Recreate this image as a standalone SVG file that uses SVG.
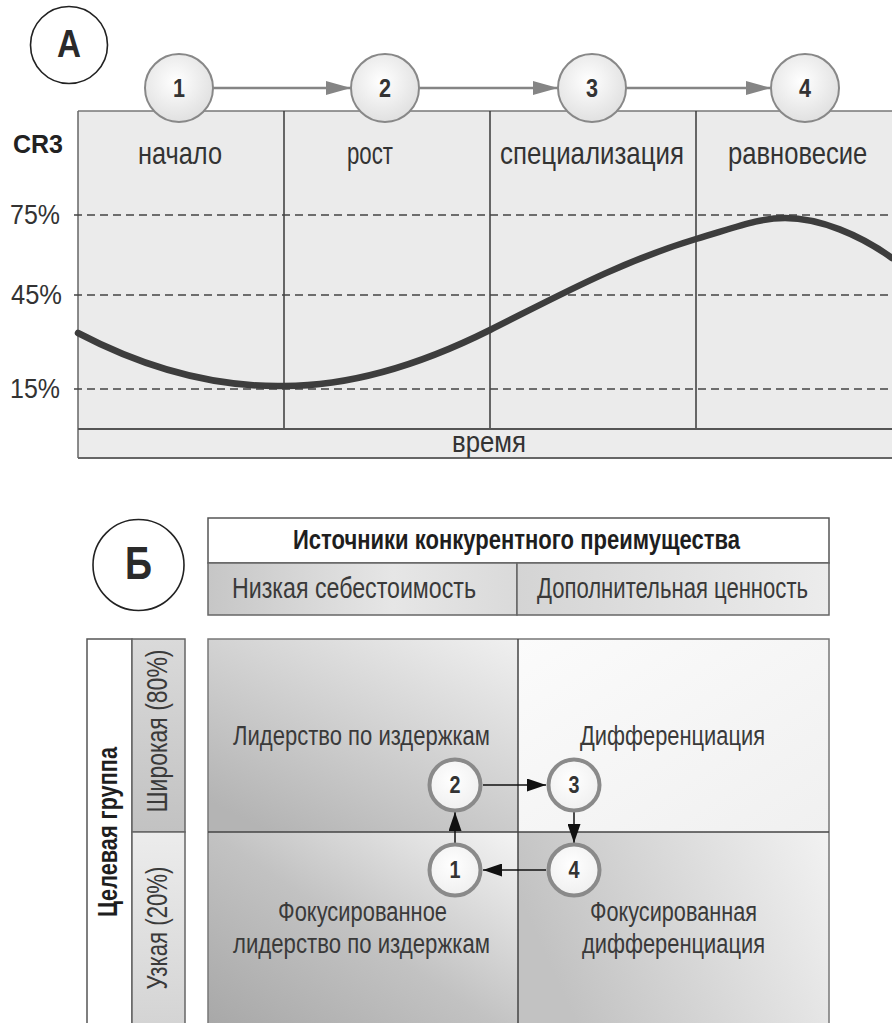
<svg xmlns="http://www.w3.org/2000/svg" width="892" height="1023" viewBox="0 0 892 1023">
<defs>
<style>
.t{font-family:"Liberation Sans",Arial,sans-serif;fill:#333;}
.b{font-weight:bold;}
.dash{stroke:#444;stroke-width:1.5;stroke-dasharray:8 5;fill:none;}
.grid{stroke:#3a3a3a;stroke-width:1.5;fill:none;}
.cellb{stroke:#666;stroke-width:1.5;}
.topc{fill:url(#gTopC);stroke:#888;stroke-width:2;}
.botc{fill:url(#gBotC);stroke:#8a8a8a;stroke-width:4;}
.toparr{stroke:#858585;stroke-width:2.7;fill:none;marker-end:url(#mGray);}
.botarr{stroke:#111;stroke-width:1.5;fill:none;marker-end:url(#mBlack);}
</style>
<radialGradient id="gTopC" cx="0.45" cy="0.4" r="0.65"><stop offset="0" stop-color="#ffffff"/><stop offset="1" stop-color="#dedede"/></radialGradient>
<radialGradient id="gBotC" cx="0.45" cy="0.4" r="0.65"><stop offset="0" stop-color="#ffffff"/><stop offset="1" stop-color="#eeeeee"/></radialGradient>
<linearGradient id="gSubL" x1="0" y1="0" x2="1" y2="0"><stop offset="0" stop-color="#c6c6c6"/><stop offset="0.6" stop-color="#e6e6e6"/><stop offset="1" stop-color="#dadada"/></linearGradient>
<linearGradient id="gSubR" x1="0" y1="0" x2="1" y2="0"><stop offset="0" stop-color="#d4d4d4"/><stop offset="1" stop-color="#ececec"/></linearGradient>
<linearGradient id="gWide" x1="0" y1="0" x2="0" y2="1"><stop offset="0" stop-color="#dadada"/><stop offset="1" stop-color="#c2c2c2"/></linearGradient>
<linearGradient id="gNarrow" x1="0" y1="0" x2="0" y2="1"><stop offset="0" stop-color="#ececec"/><stop offset="1" stop-color="#d2d2d2"/></linearGradient>
<linearGradient id="gTL" x1="1" y1="0" x2="0.2" y2="1"><stop offset="0" stop-color="#f0f0f0"/><stop offset="1" stop-color="#b4b4b4"/></linearGradient>
<linearGradient id="gTR" x1="0" y1="0" x2="1" y2="1"><stop offset="0" stop-color="#fbfbfb"/><stop offset="1" stop-color="#f0f0f0"/></linearGradient>
<linearGradient id="gBL" x1="1" y1="0" x2="0" y2="1"><stop offset="0" stop-color="#f4f4f4"/><stop offset="0.5" stop-color="#c2c2c2"/><stop offset="1" stop-color="#a6a6a6"/></linearGradient>
<linearGradient id="gBR" x1="0" y1="0.3" x2="1" y2="0"><stop offset="0" stop-color="#c2c2c2"/><stop offset="1" stop-color="#f2f2f2"/></linearGradient>
<marker id="mGray" markerUnits="userSpaceOnUse" markerWidth="26" markerHeight="14" refX="25" refY="7" orient="auto"><path d="M0,0 L25,7 L0,14 z" fill="#858585"/></marker>
<marker id="mBlack" markerUnits="userSpaceOnUse" markerWidth="20" markerHeight="13" refX="19" refY="6.5" orient="auto"><path d="M0,0 L19,6.5 L0,13 z" fill="#111"/></marker>
</defs>
<rect width="892" height="1023" fill="#ffffff"/>

<!-- Part A -->
<g id="labelA">
<circle cx="69" cy="45" r="38.5" fill="#fff" stroke="#222" stroke-width="1.6"/>
<text class="t b" x="57" y="57" font-size="38" textLength="24" lengthAdjust="spacingAndGlyphs" style="fill:#2a2a2a">A</text>
</g>

<g id="chart">
<rect x="78" y="111" width="830" height="318" fill="#ebebeb"/>
<rect x="78" y="429" width="830" height="29" fill="#ececec"/>
<line class="grid" x1="78" y1="111" x2="892" y2="111" style="stroke:#777"/>
<line class="grid" x1="78" y1="111" x2="78" y2="458" style="stroke:#666"/>
<line class="grid" x1="284" y1="111" x2="284" y2="429"/>
<line class="grid" x1="490" y1="111" x2="490" y2="429"/>
<line class="grid" x1="696" y1="111" x2="696" y2="429"/>
<line class="grid" x1="78" y1="429" x2="892" y2="429" style="stroke:#555;stroke-width:2"/>
<line class="grid" x1="78" y1="458" x2="892" y2="458" style="stroke:#666;stroke-width:2"/>
<line class="dash" x1="74" y1="215" x2="892" y2="215"/>
<line class="dash" x1="74" y1="295" x2="892" y2="295"/>
<line class="dash" x1="74" y1="389" x2="892" y2="389"/>
<path d="M78,333 C160,376 228,387 284,386 C352,386 420,365 490,330 C560,295 620,262 696,239 C740,226 760,218 785,218 C820,218 860,235 892,258" fill="none" stroke="#3d3d3d" stroke-width="6.5" stroke-linecap="round"/>
<text class="t b" x="13" y="153" font-size="25" textLength="50" lengthAdjust="spacingAndGlyphs" style="fill:#222">CR3</text>
<text class="t" x="10" y="224" font-size="27" textLength="50" lengthAdjust="spacingAndGlyphs">75%</text>
<text class="t" x="11" y="304" font-size="27" textLength="51" lengthAdjust="spacingAndGlyphs">45%</text>
<text class="t" x="10" y="398" font-size="27" textLength="50" lengthAdjust="spacingAndGlyphs">15%</text>
<text class="t" x="138" y="164" font-size="32" textLength="84" lengthAdjust="spacingAndGlyphs">начало</text>
<text class="t" x="347" y="164" font-size="32" textLength="46" lengthAdjust="spacingAndGlyphs">рост</text>
<text class="t" x="500" y="164" font-size="32" textLength="184" lengthAdjust="spacingAndGlyphs">специализация</text>
<text class="t" transform="translate(728,164) scale(0.8,1)" x="0" y="0" font-size="32">равновесие</text>
<text class="t" x="452" y="452" font-size="30" textLength="74" lengthAdjust="spacingAndGlyphs">время</text>
</g>

<g id="connectorsA">
<line class="toparr" x1="213" y1="88" x2="351" y2="88"/>
<line class="toparr" x1="419" y1="88" x2="558" y2="88"/>
<line class="toparr" x1="626" y1="88" x2="771" y2="88"/>
</g>
<g id="stage1"><circle class="topc" cx="179" cy="88" r="34"/><text class="t b" x="179" y="97" font-size="25" text-anchor="middle" textLength="12" lengthAdjust="spacingAndGlyphs">1</text></g>
<g id="stage2"><circle class="topc" cx="385" cy="88" r="34"/><text class="t b" x="385" y="97" font-size="25" text-anchor="middle" textLength="12" lengthAdjust="spacingAndGlyphs">2</text></g>
<g id="stage3"><circle class="topc" cx="592" cy="88" r="34"/><text class="t b" x="592" y="97" font-size="25" text-anchor="middle" textLength="12" lengthAdjust="spacingAndGlyphs">3</text></g>
<g id="stage4"><circle class="topc" cx="805" cy="88" r="34"/><text class="t b" x="805" y="97" font-size="25" text-anchor="middle" textLength="12" lengthAdjust="spacingAndGlyphs">4</text></g>

<!-- Part B -->
<g id="labelB">
<circle cx="138.5" cy="565" r="45.5" fill="#fff" stroke="#222" stroke-width="1.6"/>
<text class="t b" x="125" y="579" font-size="46" textLength="27" lengthAdjust="spacingAndGlyphs" style="fill:#2a2a2a">Б</text>
</g>

<g id="header">
<rect x="208" y="518" width="621" height="45" fill="#ffffff" class="cellb" style="stroke:#555"/>
<rect x="208" y="563" width="309" height="52" fill="url(#gSubL)" class="cellb"/>
<rect x="517" y="563" width="312" height="52" fill="url(#gSubR)" class="cellb"/>
<text class="t b" x="293" y="549" font-size="27" textLength="447" lengthAdjust="spacingAndGlyphs" style="fill:#1e1e1e">Источники конкурентного преимущества</text>
<text class="t" x="232" y="598" font-size="29" textLength="244" lengthAdjust="spacingAndGlyphs" style="fill:#3a3a3a">Низкая себестоимость</text>
<text class="t" x="537" y="598" font-size="29" textLength="271" lengthAdjust="spacingAndGlyphs" style="fill:#3a3a3a">Дополнительная ценность</text>
</g>

<g id="targetGroup">
<rect x="87" y="639" width="45" height="400" fill="#ffffff" class="cellb" style="stroke:#555"/>
<rect x="132" y="639" width="53" height="193" fill="url(#gWide)" class="cellb"/>
<rect x="132" y="832" width="53" height="207" fill="url(#gNarrow)" class="cellb"/>
<text class="t b" transform="translate(117,832) rotate(-90)" x="0" y="0" font-size="27" text-anchor="middle" textLength="170" lengthAdjust="spacingAndGlyphs" style="fill:#1e1e1e">Целевая группа</text>
<text class="t" transform="translate(167,731) rotate(-90)" x="0" y="0" font-size="29" text-anchor="middle" textLength="163" lengthAdjust="spacingAndGlyphs" style="fill:#3a3a3a">Широкая (80%)</text>
<text class="t" transform="translate(167,928) rotate(-90)" x="0" y="0" font-size="29" text-anchor="middle" textLength="123" lengthAdjust="spacingAndGlyphs" style="fill:#3a3a3a">Узкая (20%)</text>
</g>

<g id="matrix">
<rect x="208" y="639" width="310" height="193" fill="url(#gTL)"/>
<rect x="518" y="639" width="311" height="193" fill="url(#gTR)"/>
<rect x="208" y="832" width="310" height="207" fill="url(#gBL)"/>
<rect x="518" y="832" width="311" height="207" fill="url(#gBR)"/>
<rect x="208" y="639" width="621" height="400" fill="none" stroke="#777" stroke-width="1.5"/>
<line x1="518" y1="639" x2="518" y2="1039" stroke="#444" stroke-width="1.5"/>
<line x1="208" y1="832" x2="829" y2="832" stroke="#444" stroke-width="1.5"/>
<text class="t" x="233" y="745" font-size="27" textLength="257" lengthAdjust="spacingAndGlyphs" style="fill:#3a3a3a">Лидерство по издержкам</text>
<text class="t" x="580" y="745" font-size="27" textLength="185" lengthAdjust="spacingAndGlyphs" style="fill:#3a3a3a">Дифференциация</text>
<text class="t" x="278" y="921" font-size="27" textLength="169" lengthAdjust="spacingAndGlyphs" style="fill:#3a3a3a">Фокусированное</text>
<text class="t" x="233" y="953" font-size="27" textLength="257" lengthAdjust="spacingAndGlyphs" style="fill:#3a3a3a">лидерство по издержкам</text>
<text class="t" x="590" y="921" font-size="27" textLength="167" lengthAdjust="spacingAndGlyphs" style="fill:#3a3a3a">Фокусированная</text>
<text class="t" x="582" y="953" font-size="27" textLength="183" lengthAdjust="spacingAndGlyphs" style="fill:#3a3a3a">дифференциация</text>
</g>

<g id="connectorsB">
<line class="botarr" x1="483" y1="785" x2="546" y2="785"/>
<line class="botarr" x1="574" y1="812" x2="574" y2="843"/>
<line class="botarr" x1="546" y1="870" x2="483" y2="870"/>
<line class="botarr" x1="455" y1="843" x2="455" y2="812"/>
</g>
<g id="move1"><circle class="botc" cx="455" cy="870" r="25.5"/><text class="t b" x="455" y="878" font-size="23" text-anchor="middle" textLength="11" lengthAdjust="spacingAndGlyphs">1</text></g>
<g id="move2"><circle class="botc" cx="455" cy="785" r="25.5"/><text class="t b" x="455" y="793" font-size="23" text-anchor="middle" textLength="11" lengthAdjust="spacingAndGlyphs">2</text></g>
<g id="move3"><circle class="botc" cx="574" cy="785" r="25.5"/><text class="t b" x="574" y="793" font-size="23" text-anchor="middle" textLength="11" lengthAdjust="spacingAndGlyphs">3</text></g>
<g id="move4"><circle class="botc" cx="574" cy="870" r="25.5"/><text class="t b" x="574" y="878" font-size="23" text-anchor="middle" textLength="11" lengthAdjust="spacingAndGlyphs">4</text></g>
</svg>
